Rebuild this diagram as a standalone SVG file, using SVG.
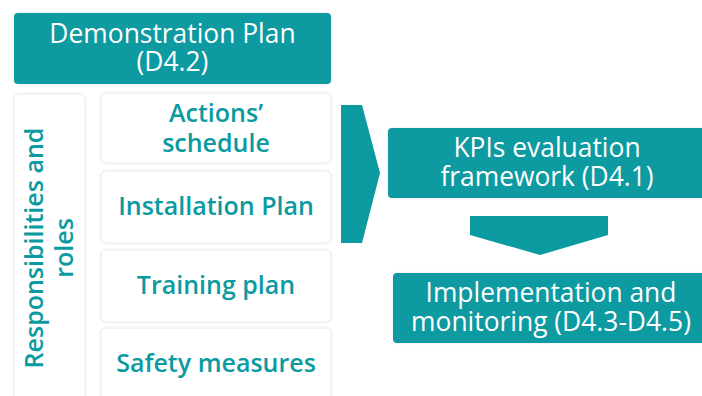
<svg xmlns="http://www.w3.org/2000/svg" width="702" height="396" viewBox="0 0 702 396">
  <defs>
    <filter id="soft" x="-10%" y="-10%" width="120%" height="120%">
      <feDropShadow dx="0" dy="0" stdDeviation="1.2" flood-color="#000" flood-opacity="0.12"/>
    </filter>
    <style>
      .teal { fill: #0B9AA0; }
      .card { fill: #ffffff; stroke: #ececec; stroke-width: 1; filter: url(#soft); }
      .solid { fill: #0B9AA0; filter: url(#soft); }
      text { font-family: "Open Sans", "Liberation Sans", sans-serif; text-anchor: middle; }
      .light { fill: #ffffff; font-size: 26.4px; }
      .dark { fill: #0B9AA0; font-weight: 600; font-size: 25px; }
    </style>
  </defs>
  <rect width="702" height="396" fill="#ffffff"/>

  <g id="demonstration-plan">
    <rect class="solid" x="14" y="13" width="317" height="71" rx="4"/>
    <text class="light" x="172.5" y="43">Demonstration Plan</text>
    <text class="light" x="172.5" y="71">(D4.2)</text>
  </g>

  <g id="responsibilities">
    <rect class="card" x="14" y="94" width="71" height="320" rx="5"/>
    <g transform="rotate(-90)">
      <text class="dark" x="-248" y="43">Responsibilities and</text>
      <text class="dark" x="-248" y="73">roles</text>
    </g>
  </g>

  <g id="actions-schedule">
    <rect class="card" x="101" y="93" width="230" height="70" rx="5"/>
    <text class="dark" x="216" y="122">Actions’</text>
    <text class="dark" x="216" y="152">schedule</text>
  </g>

  <g id="installation-plan">
    <rect class="card" x="101" y="171" width="230" height="72" rx="5"/>
    <text class="dark" x="216" y="215">Installation Plan</text>
  </g>

  <g id="training-plan">
    <rect class="card" x="101" y="250" width="230" height="72" rx="5"/>
    <text class="dark" x="216" y="294">Training plan</text>
  </g>

  <g id="safety-measures">
    <rect class="card" x="101" y="328" width="230" height="80" rx="5"/>
    <text class="dark" x="216" y="372">Safety measures</text>
  </g>

  <g id="kpis-framework">
    <rect class="solid" x="388" y="128" width="330" height="70" rx="4"/>
    <text class="light" x="547" y="157">KPIs evaluation</text>
    <text class="light" x="547" y="186">framework (D4.1)</text>
  </g>

  <g id="implementation">
    <rect class="solid" x="393" y="273" width="330" height="70" rx="4"/>
    <text class="light" x="551" y="302">Implementation and</text>
    <text class="light" x="551" y="331">monitoring (D4.3-D4.5)</text>
  </g>

  <g id="connectors">
    <polygon class="teal" points="341,105 362,105 380,173 362,243 341,243"/>
    <polygon class="teal" points="470,216 608,216 608,235 540,255 470,235"/>
  </g>
</svg>
